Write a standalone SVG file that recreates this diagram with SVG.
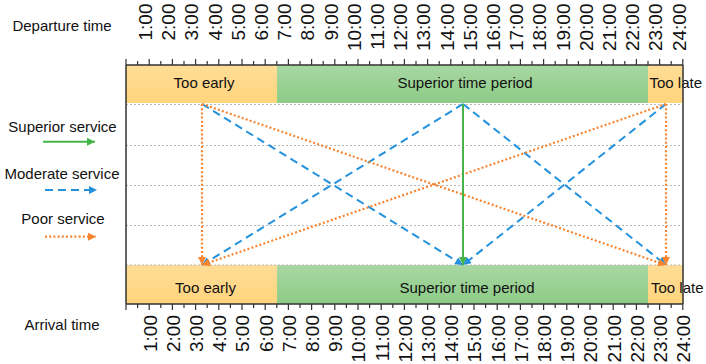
<svg xmlns="http://www.w3.org/2000/svg" width="706" height="364" viewBox="0 0 706 364">
<style>
text{font-family:"Liberation Sans",Arial,sans-serif;fill:#111}
.lbl{font-size:15px}
.ax{font-size:19px}
.frame{stroke:#333;stroke-width:1.5;fill:none}
.tick{stroke:#333;stroke-width:1.2;fill:none}
.grid{stroke:#b8b8b8;stroke-width:1;stroke-dasharray:2 2;fill:none}
.sup{stroke:#45b549;stroke-width:2;fill:none}
.mod{stroke:#2391dc;stroke-width:2;stroke-dasharray:8 5;fill:none}
.poor{stroke:#f8842f;stroke-width:2.2;stroke-dasharray:2 2.2;fill:none}
</style>
<defs>
<linearGradient id="gO" x1="0" y1="0" x2="0" y2="1"><stop offset="0" stop-color="#ffdd97"/><stop offset="1" stop-color="#ffd47c"/></linearGradient>
<linearGradient id="gG" x1="0" y1="0" x2="0" y2="1"><stop offset="0" stop-color="#a8d7a2"/><stop offset="1" stop-color="#8dcb87"/></linearGradient>
<marker id="aG" viewBox="0 0 10 10" refX="10" refY="5" markerUnits="userSpaceOnUse" markerWidth="9" markerHeight="8" orient="auto"><path d="M0,0L10,5L0,10z" fill="#45b549"/></marker>
<marker id="aB" viewBox="0 0 10 10" refX="10" refY="5" markerUnits="userSpaceOnUse" markerWidth="9" markerHeight="8" orient="auto"><path d="M0,0L10,5L0,10z" fill="#2391dc"/></marker>
<marker id="aO" viewBox="0 0 10 10" refX="10" refY="5" markerUnits="userSpaceOnUse" markerWidth="9" markerHeight="8" orient="auto"><path d="M0,0L10,5L0,10z" fill="#f8842f"/></marker>
</defs>

<g id="axis-titles">
<text class="lbl" x="62" y="30.5" text-anchor="middle">Departure time</text>
<text class="lbl" x="62" y="329.5" text-anchor="middle">Arrival time</text>
</g>

<g id="legend">
<text class="lbl" x="62.5" y="131.5" text-anchor="middle">Superior service</text>
<line class="sup" x1="43" y1="141.7" x2="95" y2="141.7" marker-end="url(#aG)"/>
<text class="lbl" x="62" y="179" text-anchor="middle">Moderate service</text>
<line class="mod" x1="45" y1="190" x2="97" y2="190" marker-end="url(#aB)"/>
<text class="lbl" x="63" y="224" text-anchor="middle">Poor service</text>
<line class="poor" x1="45" y1="236.7" x2="96" y2="236.7" marker-end="url(#aO)"/>
</g>

<g id="top-band">
<rect id="dep-too-early" x="126" y="65" width="151" height="38" fill="url(#gO)"/>
<rect id="dep-superior" x="277" y="65" width="371" height="38" fill="url(#gG)"/>
<rect id="dep-too-late" x="648" y="65" width="35" height="38" fill="url(#gO)"/>
<text class="lbl" x="204" y="87.5" text-anchor="middle">Too early</text>
<text class="lbl" x="465" y="87.5" text-anchor="middle">Superior time period</text>
<text class="lbl" x="649.5" y="87.5">Too late</text>
</g>

<g id="bottom-band">
<rect id="arr-too-early" x="126" y="265" width="151" height="39" fill="url(#gO)"/>
<rect id="arr-superior" x="277" y="265" width="371" height="39" fill="url(#gG)"/>
<rect id="arr-too-late" x="648" y="265" width="35" height="39" fill="url(#gO)"/>
<text class="lbl" x="205.5" y="293" text-anchor="middle">Too early</text>
<text class="lbl" x="467" y="293" text-anchor="middle">Superior time period</text>
<text class="lbl" x="651" y="293">Too late</text>
</g>

<g id="grid">
<path class="grid" d="M126 104.5H683M126 145.5H683M126 185.5H683M126 225.5H683M126 265H683"/>
</g>

<g id="frame">
<path class="frame" d="M126 65H683M126 304H683M126 65V304M683 65V304"/>
<path class="tick" d="M126 59v6m23.2-6v6m23.2-6v6m23.2-6v6m23.2-6v6m23.2-6v6m23.2-6v6m23.2-6v6m23.2-6v6m23.2-6v6m23.2-6v6m23.2-6v6m23.2-6v6m23.2-6v6m23.2-6v6m23.2-6v6m23.2-6v6m23.2-6v6m23.2-6v6m23.2-6v6m23.2-6v6m23.2-6v6m23.2-6v6m23.2-6v6m23.2-6v6"/>
<path class="tick" d="M137.6 61v4m23.2-4v4m23.2-4v4m23.2-4v4m23.2-4v4m23.2-4v4m23.2-4v4m23.2-4v4m23.2-4v4m23.2-4v4m23.2-4v4m23.2-4v4m23.2-4v4m23.2-4v4m23.2-4v4m23.2-4v4m23.2-4v4m23.2-4v4m23.2-4v4m23.2-4v4m23.2-4v4m23.2-4v4m23.2-4v4m23.2-4v4"/>
<path class="tick" d="M126 304v6m23.2-6v6m23.2-6v6m23.2-6v6m23.2-6v6m23.2-6v6m23.2-6v6m23.2-6v6m23.2-6v6m23.2-6v6m23.2-6v6m23.2-6v6m23.2-6v6m23.2-6v6m23.2-6v6m23.2-6v6m23.2-6v6m23.2-6v6m23.2-6v6m23.2-6v6m23.2-6v6m23.2-6v6m23.2-6v6m23.2-6v6m23.2-6v6"/>
<path class="tick" d="M137.6 304v4m23.2-4v4m23.2-4v4m23.2-4v4m23.2-4v4m23.2-4v4m23.2-4v4m23.2-4v4m23.2-4v4m23.2-4v4m23.2-4v4m23.2-4v4m23.2-4v4m23.2-4v4m23.2-4v4m23.2-4v4m23.2-4v4m23.2-4v4m23.2-4v4m23.2-4v4m23.2-4v4m23.2-4v4m23.2-4v4m23.2-4v4"/>
</g>

<g id="top-labels" class="ax" text-anchor="end">
<text class="ax" transform="translate(152,3.5) rotate(-90)">1:00</text>
<text class="ax" transform="translate(175.2,3.5) rotate(-90)">2:00</text>
<text class="ax" transform="translate(198.4,3.5) rotate(-90)">3:00</text>
<text class="ax" transform="translate(221.6,3.5) rotate(-90)">4:00</text>
<text class="ax" transform="translate(244.8,3.5) rotate(-90)">5:00</text>
<text class="ax" transform="translate(268,3.5) rotate(-90)">6:00</text>
<text class="ax" transform="translate(291.2,3.5) rotate(-90)">7:00</text>
<text class="ax" transform="translate(314.4,3.5) rotate(-90)">8:00</text>
<text class="ax" transform="translate(337.6,3.5) rotate(-90)">9:00</text>
<text class="ax" transform="translate(360.8,3.5) rotate(-90)">10:00</text>
<text class="ax" transform="translate(384,3.5) rotate(-90)">11:00</text>
<text class="ax" transform="translate(407.2,3.5) rotate(-90)">12:00</text>
<text class="ax" transform="translate(430.4,3.5) rotate(-90)">13:00</text>
<text class="ax" transform="translate(453.6,3.5) rotate(-90)">14:00</text>
<text class="ax" transform="translate(476.8,3.5) rotate(-90)">15:00</text>
<text class="ax" transform="translate(500,3.5) rotate(-90)">16:00</text>
<text class="ax" transform="translate(523.2,3.5) rotate(-90)">17:00</text>
<text class="ax" transform="translate(546.4,3.5) rotate(-90)">18:00</text>
<text class="ax" transform="translate(569.6,3.5) rotate(-90)">19:00</text>
<text class="ax" transform="translate(592.8,3.5) rotate(-90)">20:00</text>
<text class="ax" transform="translate(616,3.5) rotate(-90)">21:00</text>
<text class="ax" transform="translate(639.2,3.5) rotate(-90)">22:00</text>
<text class="ax" transform="translate(662.4,3.5) rotate(-90)">23:00</text>
<text class="ax" transform="translate(685.6,3.5) rotate(-90)">24:00</text>
</g>

<g id="bottom-labels" class="ax" text-anchor="end">
<text class="ax" transform="translate(156.5,315) rotate(-90)">1:00</text>
<text class="ax" transform="translate(179.7,315) rotate(-90)">2:00</text>
<text class="ax" transform="translate(202.9,315) rotate(-90)">3:00</text>
<text class="ax" transform="translate(226.1,315) rotate(-90)">4:00</text>
<text class="ax" transform="translate(249.3,315) rotate(-90)">5:00</text>
<text class="ax" transform="translate(272.5,315) rotate(-90)">6:00</text>
<text class="ax" transform="translate(295.7,315) rotate(-90)">7:00</text>
<text class="ax" transform="translate(318.9,315) rotate(-90)">8:00</text>
<text class="ax" transform="translate(342.1,315) rotate(-90)">9:00</text>
<text class="ax" transform="translate(365.3,315) rotate(-90)">10:00</text>
<text class="ax" transform="translate(388.5,315) rotate(-90)">11:00</text>
<text class="ax" transform="translate(411.7,315) rotate(-90)">12:00</text>
<text class="ax" transform="translate(434.9,315) rotate(-90)">13:00</text>
<text class="ax" transform="translate(458.1,315) rotate(-90)">14:00</text>
<text class="ax" transform="translate(481.3,315) rotate(-90)">15:00</text>
<text class="ax" transform="translate(504.5,315) rotate(-90)">16:00</text>
<text class="ax" transform="translate(527.7,315) rotate(-90)">17:00</text>
<text class="ax" transform="translate(550.9,315) rotate(-90)">18:00</text>
<text class="ax" transform="translate(574.1,315) rotate(-90)">19:00</text>
<text class="ax" transform="translate(597.3,315) rotate(-90)">20:00</text>
<text class="ax" transform="translate(620.5,315) rotate(-90)">21:00</text>
<text class="ax" transform="translate(643.7,315) rotate(-90)">22:00</text>
<text class="ax" transform="translate(666.9,315) rotate(-90)">23:00</text>
<text class="ax" transform="translate(690.1,315) rotate(-90)">24:00</text>
</g>

<g id="connectors">
<line class="mod" x1="202" y1="104" x2="463" y2="265" marker-end="url(#aB)"/>
<line class="mod" x1="666" y1="104" x2="463" y2="265" marker-end="url(#aB)"/>
<line class="mod" x1="463" y1="104" x2="202" y2="265" marker-end="url(#aB)"/>
<line class="mod" x1="463" y1="104" x2="666" y2="265" marker-end="url(#aB)"/>
<line class="poor" x1="202" y1="104" x2="202" y2="265" marker-end="url(#aO)"/>
<line class="poor" x1="202" y1="104" x2="666" y2="265" marker-end="url(#aO)"/>
<line class="poor" x1="666" y1="104" x2="202" y2="265" marker-end="url(#aO)"/>
<line class="poor" x1="666" y1="104" x2="666" y2="265" marker-end="url(#aO)"/>
<line class="sup" x1="463" y1="104" x2="463" y2="265" marker-end="url(#aG)"/>
</g>
</svg>
